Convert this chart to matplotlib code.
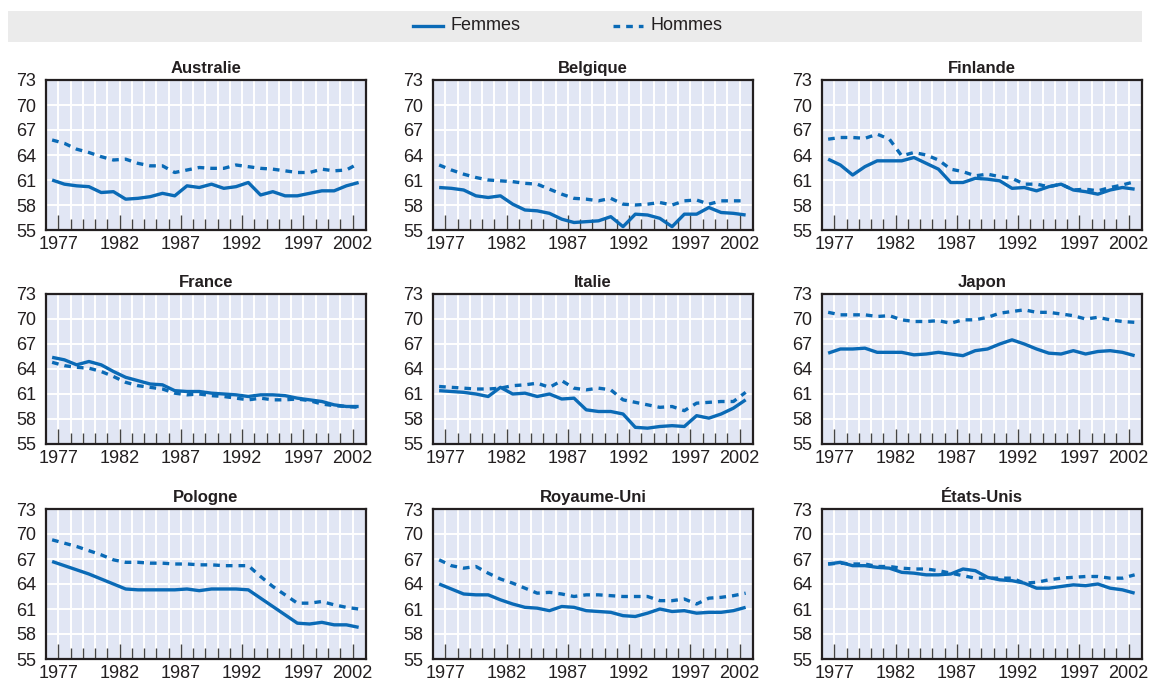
import matplotlib
matplotlib.use("Agg")
import matplotlib.pyplot as plt
from matplotlib import font_manager
from matplotlib.patches import Rectangle
from matplotlib.lines import Line2D

names = {f.name for f in font_manager.fontManager.ttflist}
FONT = "Liberation Sans Narrow" if "Liberation Sans Narrow" in names else "Liberation Sans"
plt.rcParams['font.family'] = [FONT, 'DejaVu Sans']

years = list(range(1977, 2003))
countries = ["Australie", "Belgique", "Finlande", "France", "Italie", "Japon",
             "Pologne", "Royaume-Uni", "États-Unis"]

femmes = {
    "Australie": [61.0, 60.5, 60.3, 60.2, 59.5, 59.6, 58.7, 58.8, 59.0, 59.4, 59.1, 60.3, 60.1,
                  60.5, 60.0, 60.2, 60.7, 59.2, 59.6, 59.1, 59.1, 59.4, 59.7, 59.7, 60.3, 60.7],
    "Belgique": [60.1, 60.0, 59.8, 59.1, 58.9, 59.1, 58.1, 57.4, 57.3, 57.0, 56.3, 55.9, 56.0,
                 56.1, 56.6, 55.4, 56.9, 56.8, 56.4, 55.4, 56.9, 56.9, 57.7, 57.1, 57.0, 56.8],
    "Finlande": [63.5, 62.8, 61.6, 62.6, 63.3, 63.3, 63.3, 63.7, 63.0, 62.3, 60.7, 60.7, 61.2,
                 61.1, 60.9, 60.0, 60.1, 59.7, 60.2, 60.5, 59.8, 59.6, 59.3, 59.8, 60.1, 59.9],
    "France": [65.4, 65.1, 64.5, 64.9, 64.5, 63.7, 63.0, 62.6, 62.2, 62.1, 61.4, 61.3, 61.3,
               61.1, 61.0, 60.9, 60.7, 60.9, 60.9, 60.8, 60.5, 60.3, 60.1, 59.7, 59.5, 59.5],
    "Italie": [61.4, 61.3, 61.2, 61.0, 60.7, 61.8, 61.0, 61.1, 60.7, 61.0, 60.4, 60.5, 59.1,
               58.9, 58.9, 58.6, 57.0, 56.9, 57.1, 57.2, 57.1, 58.4, 58.1, 58.6, 59.3, 60.3],
    "Japon": [65.9, 66.4, 66.4, 66.5, 66.0, 66.0, 66.0, 65.7, 65.8, 66.0, 65.8, 65.6, 66.2,
              66.4, 67.0, 67.5, 67.0, 66.4, 65.9, 65.8, 66.2, 65.8, 66.1, 66.2, 66.0, 65.6],
    "Pologne": [66.7, 66.2, 65.7, 65.2, 64.6, 64.0, 63.4, 63.3, 63.3, 63.3, 63.3, 63.4, 63.2,
                63.4, 63.4, 63.4, 63.3, 62.3, 61.3, 60.3, 59.3, 59.2, 59.4, 59.1, 59.1, 58.8],
    "Royaume-Uni": [64.0, 63.4, 62.8, 62.7, 62.7, 62.1, 61.6, 61.2, 61.1, 60.8, 61.3, 61.2, 60.8,
                    60.7, 60.6, 60.2, 60.1, 60.5, 61.0, 60.7, 60.8, 60.5, 60.6, 60.6, 60.8, 61.2],
    "États-Unis": [66.4, 66.6, 66.2, 66.2, 66.0, 65.9, 65.4, 65.3, 65.1, 65.1, 65.2, 65.8, 65.6,
                   64.8, 64.5, 64.4, 64.1, 63.5, 63.5, 63.7, 63.9, 63.8, 64.0, 63.5, 63.3, 62.9],
}

hommes = {
    "Australie": [65.8, 65.4, 64.7, 64.3, 63.8, 63.4, 63.5, 63.0, 62.7, 62.7, 61.9, 62.2, 62.5,
                  62.4, 62.4, 62.8, 62.6, 62.4, 62.3, 62.1, 61.9, 61.9, 62.3, 62.1, 62.2, 63.0],
    "Belgique": [62.8, 62.2, 61.7, 61.3, 61.0, 60.9, 60.8, 60.6, 60.5, 59.9, 59.3, 58.8, 58.7,
                 58.5, 58.8, 58.1, 58.0, 58.1, 58.3, 58.0, 58.5, 58.6, 58.1, 58.5, 58.5, 58.5],
    "Finlande": [65.9, 66.1, 66.1, 66.0, 66.5, 65.9, 63.9, 64.3, 64.0, 63.4, 62.3, 62.0, 61.5,
                 61.7, 61.4, 61.2, 60.5, 60.5, 60.2, 60.5, 59.8, 59.9, 59.7, 60.1, 60.4, 60.8],
    "France": [64.8, 64.4, 64.2, 64.1, 63.7, 63.1, 62.4, 62.0, 61.8, 61.6, 61.1, 60.9, 61.0,
               60.8, 60.7, 60.5, 60.3, 60.5, 60.3, 60.3, 60.4, 60.2, 59.8, 59.6, 59.5, 59.4],
    "Italie": [61.9, 61.8, 61.7, 61.6, 61.6, 61.7, 62.0, 62.1, 62.3, 61.8, 62.6, 61.7, 61.5,
               61.7, 61.5, 60.3, 60.0, 59.7, 59.4, 59.5, 59.0, 59.9, 60.0, 60.1, 60.1, 61.2],
    "Japon": [70.8, 70.5, 70.5, 70.5, 70.3, 70.4, 69.9, 69.7, 69.7, 69.8, 69.5, 69.9, 69.9,
              70.2, 70.7, 70.9, 71.1, 70.8, 70.8, 70.6, 70.4, 70.0, 70.2, 69.9, 69.7, 69.6],
    "Pologne": [69.3, 68.9, 68.5, 68.0, 67.5, 66.9, 66.6, 66.6, 66.5, 66.5, 66.4, 66.4, 66.3,
                66.3, 66.2, 66.2, 66.2, 64.9, 63.7, 62.7, 61.7, 61.7, 61.9, 61.5, 61.2, 61.0],
    "Royaume-Uni": [66.9, 66.2, 65.9, 66.1, 65.3, 64.6, 64.1, 63.5, 62.9, 63.0, 62.8, 62.5, 62.7,
                    62.7, 62.6, 62.5, 62.5, 62.5, 62.0, 62.0, 62.2, 61.6, 62.3, 62.4, 62.6, 62.9],
    "États-Unis": [66.4, 66.5, 66.4, 66.4, 66.1, 66.1, 65.9, 65.8, 65.8, 65.6, 65.3, 65.0, 64.7,
                   64.7, 64.7, 64.7, 64.1, 64.2, 64.5, 64.7, 64.8, 64.9, 64.9, 64.7, 64.7, 65.1],
}

y_ticks = [55, 58, 61, 64, 67, 70, 73]
x_tick_labels = ["1977", "1982", "1987", "1992", "1997", "2002"]

BLUE = "#0a6ab6"
BG = "#e1e6f4"
SPINE = "#231f20"
W, H = 1150, 686

fig = plt.figure(figsize=(W / 100, H / 100), dpi=100)

# legend band
fig.patches.append(Rectangle((8 / W, 1 - 42 / H), 1134 / W, 31 / H, transform=fig.transFigure,
                             facecolor="#ebebeb", edgecolor="none", zorder=0))
ly = 1 - 26 / H
fig.add_artist(Line2D([413 / W, 443 / W], [ly, ly], color=BLUE, lw=2.4, transform=fig.transFigure))
fig.text(450 / W, ly, "Femmes", fontsize=13, va="center", ha="left", color="#231f20")
fig.add_artist(Line2D([613 / W, 643 / W], [ly, ly], color=BLUE, lw=2.4, dashes=(2.0, 1.8),
                      transform=fig.transFigure))
fig.text(650 / W, ly, "Hommes", fontsize=13, va="center", ha="left", color="#231f20")

col_left = [46, 433, 822]
row_top = [80, 294, 509]
aw, ah = 320, 150

tick_pos = [y + 0.5 for y in range(1977, 2002)]
label_idx = [0, 5, 10, 15, 20, 24]

for i, c in enumerate(countries):
    r, col = divmod(i, 3)
    ax = fig.add_axes([col_left[col] / W, 1 - (row_top[r] + ah) / H, aw / W, ah / H])
    ax.set_facecolor(BG)
    ax.plot(years, femmes[c], color=BLUE, lw=2.4, solid_capstyle="butt", zorder=3)
    ax.plot(years, hommes[c], color=BLUE, lw=2.4, dashes=(2.0, 1.8), zorder=3)
    ax.set_xlim(1976.5, 2002.6)
    ax.set_ylim(55, 73)
    ax.set_yticks(y_ticks)
    ax.set_yticklabels([str(v) for v in y_ticks], fontsize=13, color="#231f20")
    ax.tick_params(axis="y", length=0, pad=7)
    ax.set_xticks(tick_pos)
    ax.set_xticklabels([x_tick_labels[label_idx.index(k)] if k in label_idx else ""
                        for k in range(len(tick_pos))], fontsize=13, color="#231f20")
    ax.tick_params(axis="x", direction="in", length=8, width=1.0, color="#444444", pad=4)
    for k, t in enumerate(ax.xaxis.get_major_ticks()):
        if k in label_idx:
            t.tick1line.set_markersize(11)
    ax.grid(True, color="white", lw=1.4, zorder=1)
    ax.set_axisbelow(True)
    for s in ax.spines.values():
        s.set_color(SPINE)
        s.set_linewidth(1.6)
    ax.set_title(c, fontsize=12, fontweight="bold", color="#231f20", pad=5)

fig.savefig("out.png", dpi=100)
